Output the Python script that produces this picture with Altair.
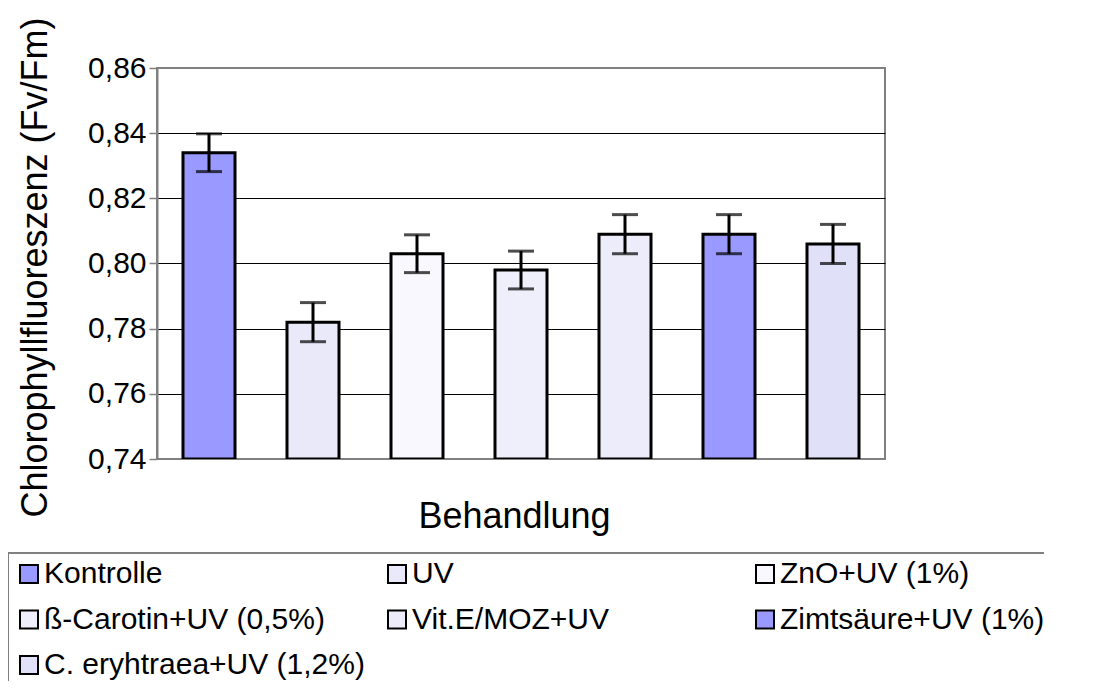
import altair as alt
import pandas as pd

categories = ["Kontrolle", "UV", "ZnO+UV (1%)", "ß-Carotin+UV (0,5%)",
              "Vit.E/MOZ+UV", "Zimtsäure+UV (1%)", "C. eryhtraea+UV (1,2%)"]
values = [0.834, 0.782, 0.803, 0.798, 0.809, 0.809, 0.806]
errors = [0.0058, 0.006, 0.0058, 0.0058, 0.006, 0.006, 0.006]
colors = ["#9999ff", "#e9e9fa", "#f8f8fe", "#efeffb", "#ececfa", "#9999ff", "#e0e0f8"]
y_ticks = [0.74, 0.76, 0.78, 0.80, 0.82, 0.84, 0.86]
y_min, y_max = 0.74, 0.86

df = pd.DataFrame({
    "cat": categories,
    "val": values,
    "lo": [v - e for v, e in zip(values, errors)],
    "hi": [v + e for v, e in zip(values, errors)],
    "base": [y_min] * len(categories),
})

FONT = "Liberation Sans"

x_enc = alt.X("cat:N", sort=categories,
              scale=alt.Scale(paddingInner=0.5, paddingOuter=0.25),
              axis=alt.Axis(title="Behandlung", labels=False, ticks=False, domain=False,
                            titleFontSize=36, titleFontWeight="normal", titleColor="black",
                            titleX=357, titleY=57, titleBaseline="middle", titleAlign="center"))

y_scale = alt.Scale(domain=[y_min, y_max], nice=False, zero=False)

bars = alt.Chart(df).mark_bar(stroke="black", strokeWidth=3, clip=True).encode(
    x=x_enc,
    y=alt.Y("val:Q", scale=y_scale,
            axis=alt.Axis(title="Chlorophyllfluoreszenz (Fv/Fm)", values=y_ticks,
                          labelExpr="replace(format(datum.value, '.2f'), '.', ',')",
                          labelFontSize=30, labelColor="black", labelPadding=3,
                          tickSize=8, tickColor="#808080", tickWidth=1.5,
                          domainColor="#808080", domainWidth=2,
                          grid=True,
                          gridColor={"condition": {"test": "datum.value <= 0.745 || datum.value >= 0.855",
                                                   "value": "#808080"},
                                     "value": "#000000"},
                          gridWidth=1.2,
                          titleFontSize=36, titleFontWeight="normal", titleColor="black",
                          titleX=-122, titleY=199, titleAngle=-90,
                          titleBaseline="middle", titleAlign="center")),
    y2=alt.Y2("base:Q"),
    color=alt.Color("cat:N", sort=categories,
                    scale=alt.Scale(domain=categories, range=colors),
                    legend=alt.Legend(title=None, orient="none", legendX=-149, legendY=485,
                                      direction="horizontal",
                                      columns=3, gridAlign="all", columnPadding=17,
                                      rowPadding=15.5, padding=6,
                                      symbolType="square", symbolSize=324,
                                      symbolStrokeColor="black", symbolStrokeWidth=2,
                                      symbolOpacity=1, labelOffset=0,
                                      labelFontSize=30, labelColor="black", labelLimit=500,
                                      fillColor="white", strokeColor="#808080")),
)

rules = alt.Chart(df).mark_rule(color="black", strokeWidth=3).encode(
    x=alt.X("cat:N", sort=categories),
    y=alt.Y("lo:Q", scale=y_scale),
    y2="hi:Q",
)

tick_lo = alt.Chart(df).mark_tick(color="black", thickness=3, size=26).encode(
    x=alt.X("cat:N", sort=categories),
    y=alt.Y("lo:Q", scale=y_scale),
)
tick_hi = alt.Chart(df).mark_tick(color="black", thickness=3, size=26).encode(
    x=alt.X("cat:N", sort=categories),
    y=alt.Y("hi:Q", scale=y_scale),
)

chart = alt.layer(bars, rules, tick_lo, tick_hi).properties(
    width=728, height=391,
    padding={"left": 149, "top": 60, "right": 159, "bottom": 222},
    autosize=alt.AutoSizeParams(type="none"),
    background="white",
).configure(font=FONT).configure_view(
    stroke="#808080", strokeWidth=2
).configure_legend(strokeWidth=2)

chart.save("out.html", embed_options={"renderer": "svg", "actions": False})
